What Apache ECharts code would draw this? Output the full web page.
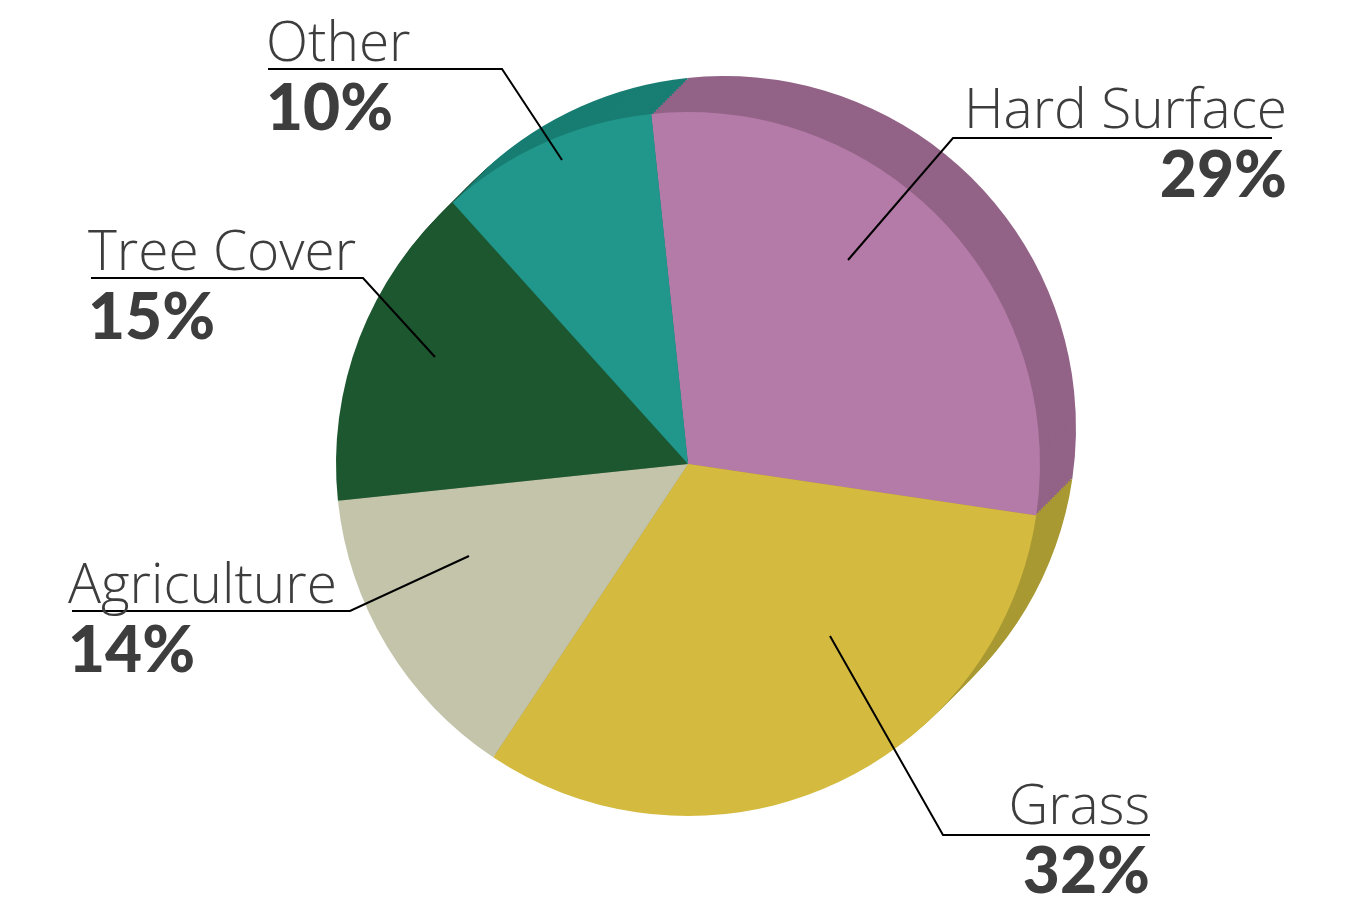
<!DOCTYPE html>
<html>
<head>
<meta charset="utf-8">
<script src="https://cdn.jsdelivr.net/npm/echarts@6/dist/echarts.min.js"></script>
<style>
  html, body { margin: 0; padding: 0; background: #fff; }
  #main { width: 1368px; height: 910px; }
</style>
</head>
<body>
<div id="main"></div>
<script>
const categories = ['Hard Surface', 'Grass', 'Agriculture', 'Tree Cover', 'Other'];
const shares = [29, 32, 14, 15, 10];
const faceColors = ['#b47aa8', '#d4ba3e', '#c3c4aa', '#1d572f', '#21968a'];
const sideColors = ['#926386', '#a99932', '#9c9d86', '#164526', '#187d72'];

// label placement: baseline of the name, underline y, elbow x, far end x, anchor inside slice
const leaders = [
  { x: 1287, align: 'right', base: 130, lineY: 138, elbowX: 953, endX: 1272, anchor: [848, 260] },
  { x: 1150, align: 'right', base: 826, lineY: 835, elbowX: 943, endX: 1150, anchor: [830, 636] },
  { x: 68,   align: 'left',  base: 605, lineY: 611, elbowX: 350, endX: 72,   anchor: [469, 556] },
  { x: 88,   align: 'left',  base: 272, lineY: 278, elbowX: 363, endX: 91,   anchor: [435, 357] },
  { x: 266,  align: 'left',  base: 63,  lineY: 69,  elbowX: 502, endX: 268,  anchor: [562, 160] }
];

const cx = 688, cy = 464, radius = 352, startAngle = 96;
const depth = [36, -36], steps = 16;

const chart = echarts.init(document.getElementById('main'));

const pieData = colors => categories.map((name, i) => ({
  name, value: shares[i], itemStyle: { color: colors[i] }
}));

const base = {
  type: 'pie',
  animation: false,
  silent: true,
  radius: radius,
  startAngle,
  emphasis: { disabled: true }
};

const series = [];
// side of the disc: stacked darker copies shifted back
for (let k = steps; k >= 1; k--) {
  series.push(Object.assign({}, base, {
    z: 1,
    center: [cx + depth[0] * k / steps, cy + depth[1] * k / steps],
    label: { show: false },
    labelLine: { show: false },
    data: pieData(sideColors)
  }));
}

// top face
series.push(Object.assign({}, base, {
  z: 2,
  center: [cx, cy],
  label: { show: false },
  labelLine: { show: false },
  data: pieData(faceColors)
}));

// labels and leader lines drawn over everything
series.push(Object.assign({}, base, {
  z: 3,
  center: [cx, cy],
  itemStyle: { color: 'rgba(0,0,0,0)' },
  label: {
    show: true,
    formatter: p => '{n|' + p.name + '}\n{v|' + p.value + '%}',
    rich: {
      n: { fontFamily: 'Open Sans', fontWeight: 300, fontSize: 55, lineHeight: 58, color: '#3d3d3d' },
      v: { fontFamily: 'Lato', fontWeight: 900, fontSize: 64, lineHeight: 70, color: '#3d3d3d' }
    }
  },
  labelLine: { show: true, showAbove: true, lineStyle: { color: '#000', width: 2 } },
  labelLayout: params => {
    const l = leaders[params.dataIndex];
    return {
      x: l.x,
      y: l.base - 47,
      align: l.align,
      verticalAlign: 'top',
      labelLinePoints: [l.anchor, [l.elbowX, l.lineY], [l.endX, l.lineY]]
    };
  },
  data: categories.map((name, i) => ({ name, value: shares[i] }))
}));

chart.setOption({ backgroundColor: '#fff', series });
window.addEventListener('resize', () => chart.resize());
</script>
</body>
</html>
